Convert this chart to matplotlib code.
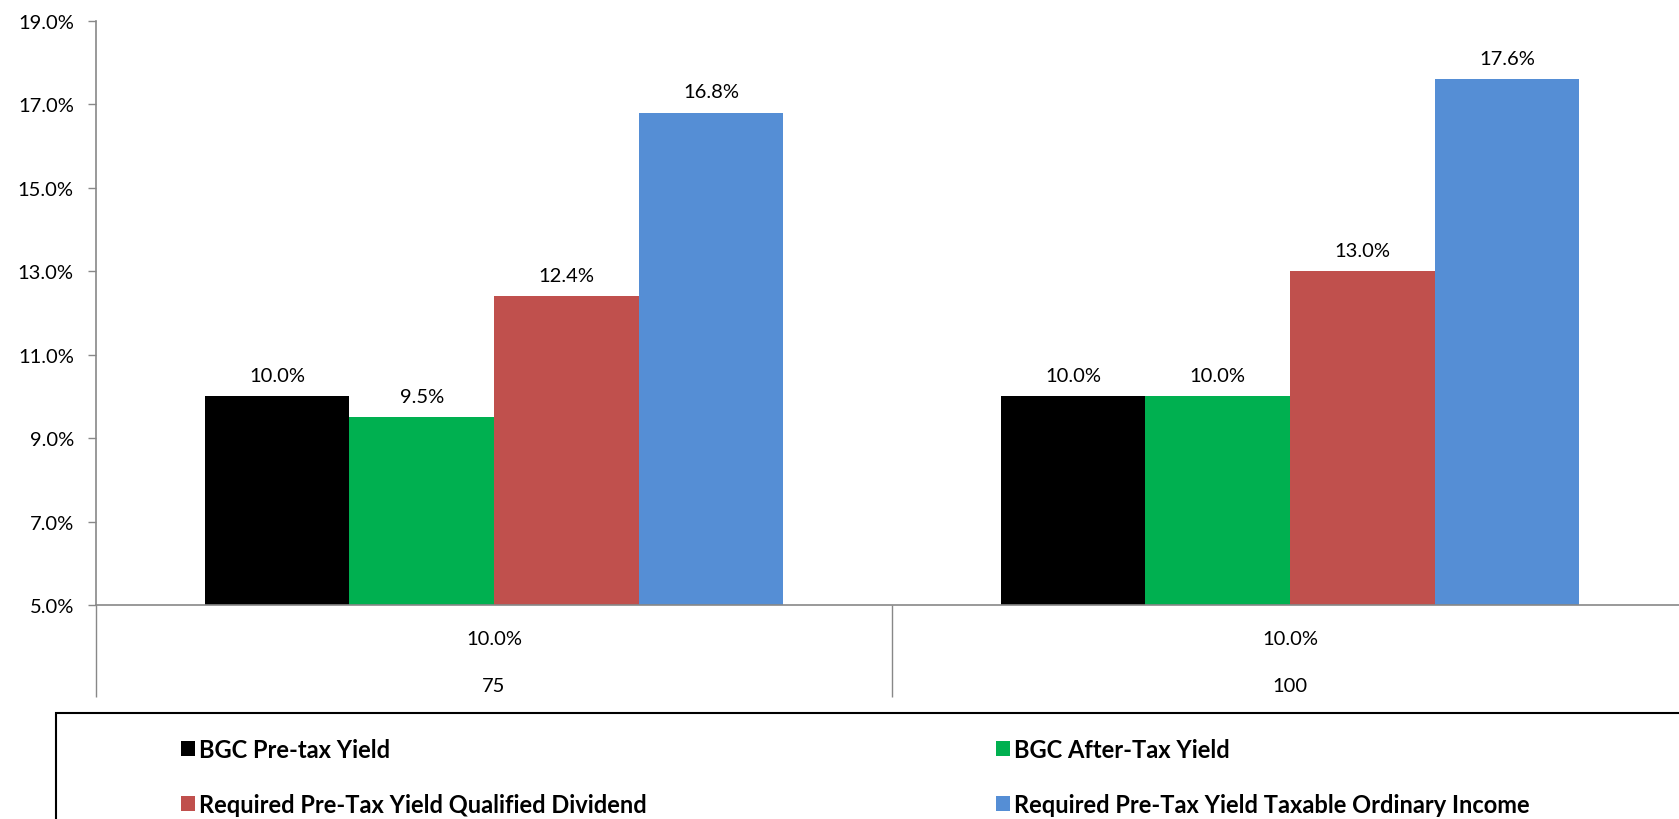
import matplotlib
matplotlib.use("Agg")
import matplotlib.pyplot as plt
from matplotlib.patches import Rectangle
import numpy as np

plt.rcParams['font.family'] = ['Lato', 'DejaVu Sans']

# yield scenarios (inner / outer category level)
inner_labels = ["10.0%", "10.0%"]
outer_labels = ["75", "100"]

series_names = [
    "BGC Pre-tax Yield",
    "BGC After-Tax Yield",
    "Required Pre-Tax Yield Qualified Dividend",
    "Required Pre-Tax Yield Taxable Ordinary Income",
]
series_colors = ["#000000", "#00b050", "#c0504d", "#558ed5"]

pretax = [10.0, 10.0]
aftertax = [9.5, 10.0]
req_qualified = [12.4, 13.0]
req_ordinary = [16.8, 17.6]
series_values = [pretax, aftertax, req_qualified, req_ordinary]

yticks = [5, 7, 9, 11, 13, 15, 17, 19]

fig = plt.figure(figsize=(16.79, 8.2), dpi=100)
ax = fig.add_axes([96 / 1679, 1 - 606 / 820, 1592 / 1679, 584 / 820])

n = len(series_values)
centers = np.arange(len(inner_labels)) + 0.5
width = 1.0 / (n + 1.5)
handles = []
for i, (vals, name, col) in enumerate(zip(series_values, series_names, series_colors)):
    x = centers + (i - (n - 1) / 2) * width
    bars = ax.bar(x, vals, width=width, color=col, label=name, zorder=2)
    handles.append(bars)
    for xi, v in zip(x, vals):
        ax.annotate(f"{v:.1f}%", (xi, v), xytext=(0, 9), textcoords="offset points",
                    ha="center", va="bottom", fontsize=14.5)

ax.set_xlim(0, len(inner_labels))
ax.set_ylim(5, 19)
ax.set_yticks(yticks, [f"{t:.1f}%" for t in yticks])
ax.tick_params(axis="y", length=6, width=1, color="#888888", labelsize=14.5, pad=10)

for s in ["top", "right"]:
    ax.spines[s].set_visible(False)
for s in ["left", "bottom"]:
    ax.spines[s].set_color("#888888")
    ax.spines[s].set_linewidth(1.2)

# two-level category axis
ax.set_xticks(centers, [])
ax.tick_params(axis="x", which="major", length=0)
ax.set_xticks(np.arange(len(inner_labels) + 1), minor=True)
ax.tick_params(axis="x", which="minor", length=66, width=1, color="#888888")
for c, lab_in, lab_out in zip(centers, inner_labels, outer_labels):
    ax.text(c, -0.058, lab_in, transform=ax.get_xaxis_transform(),
            ha="center", va="center", fontsize=14.5)
    ax.text(c, -0.137, lab_out, transform=ax.get_xaxis_transform(),
            ha="center", va="center", fontsize=14.5)

# legend box
fig.patches.append(Rectangle((56 / 1679, -0.05), 1.0, 1 - 714 / 820 + 0.05,
                             transform=fig.transFigure, fill=False,
                             edgecolor="black", linewidth=1.5))
order = [0, 2, 1, 3]
leg = fig.legend([handles[i] for i in order], [series_names[i] for i in order],
                 ncol=2, loc="upper left", bbox_to_anchor=(160 / 1679, 1 - 718 / 820),
                 frameon=False, handlelength=0.6, handleheight=0.6, handletextpad=0.15,
                 columnspacing=14.8, labelspacing=1.35,
                 prop={"weight": "bold", "size": 17})

fig.savefig("out.png", dpi=100)
